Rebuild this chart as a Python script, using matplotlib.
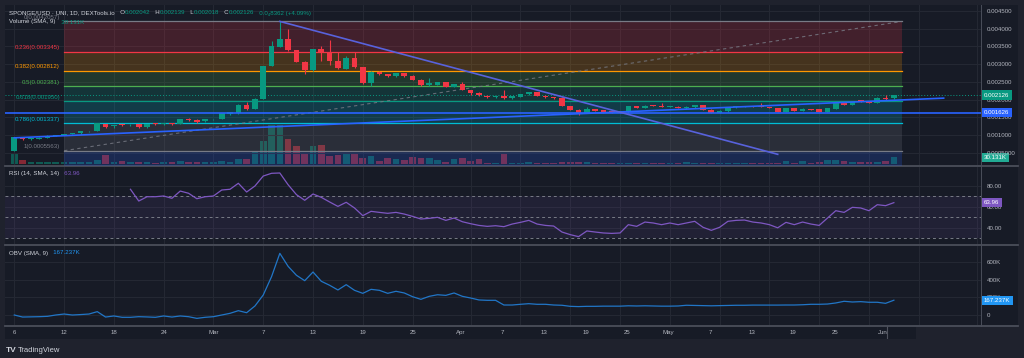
import numpy as np
import matplotlib
matplotlib.use("Agg")
import matplotlib.pyplot as plt
from matplotlib.patches import Rectangle
from matplotlib.lines import Line2D

plt.rcParams['font.family'] = ['Liberation Sans', 'DejaVu Sans']

# ---------------- data ----------------
open_ = [0.00056, 0.00093, 0.00088, 0.00090, 0.00092, 0.00098, 0.00100, 0.00103, 0.00105, 0.00110,
         0.00111, 0.00131, 0.00124, 0.00130, 0.00127, 0.00131, 0.00122, 0.00131, 0.00130, 0.00132,
         0.00131, 0.00145, 0.00142, 0.00139, 0.00144, 0.00145, 0.00159, 0.00161, 0.00185, 0.00173,
         0.00202, 0.00295, 0.00349, 0.00371, 0.00340, 0.00307, 0.00283, 0.00342, 0.00333, 0.00310,
         0.00287, 0.00316, 0.00292, 0.00248, 0.00279, 0.00272, 0.00266, 0.00274, 0.00267, 0.00255,
         0.00240, 0.00242, 0.00249, 0.00236, 0.00243, 0.00227, 0.00219, 0.00210, 0.00206, 0.00210,
         0.00203, 0.00208, 0.00215, 0.00221, 0.00211, 0.00206, 0.00205, 0.00182, 0.00171, 0.00163,
         0.00173, 0.00170, 0.00165, 0.00164, 0.00164, 0.00182, 0.00177, 0.00184, 0.00183, 0.00179,
         0.00180, 0.00176, 0.00178, 0.00185, 0.00171, 0.00163, 0.00167, 0.00178, 0.00180, 0.00181,
         0.00182, 0.00178, 0.00176, 0.00166, 0.00176, 0.00168, 0.00172, 0.00172, 0.00166, 0.00173,
         0.00191, 0.00185, 0.00196, 0.00196, 0.00191, 0.00205, 0.002042]
high = [0.00095, 0.00094, 0.00091, 0.00093, 0.00099, 0.00101, 0.00104, 0.00107, 0.00111, 0.00112,
        0.00134, 0.00132, 0.00129, 0.00131, 0.00130, 0.00132, 0.00132, 0.00133, 0.00133, 0.00133,
        0.00146, 0.00148, 0.00144, 0.00145, 0.00146, 0.00162, 0.00166, 0.00187, 0.00192, 0.00205,
        0.00296, 0.00366, 0.0042057, 0.00399, 0.00341, 0.00308, 0.00343, 0.00351, 0.00368, 0.00335,
        0.00323, 0.00333, 0.00293, 0.00280, 0.00280, 0.00273, 0.00276, 0.00276, 0.00268, 0.00258,
        0.00260, 0.00250, 0.00250, 0.00244, 0.00250, 0.00228, 0.00221, 0.00212, 0.00211, 0.00227,
        0.00210, 0.00217, 0.00222, 0.00222, 0.00212, 0.00207, 0.00206, 0.00183, 0.00172, 0.00180,
        0.00174, 0.00171, 0.00166, 0.00166, 0.00183, 0.00183, 0.00184, 0.00185, 0.00191, 0.00181,
        0.00181, 0.00181, 0.00186, 0.00186, 0.00172, 0.00170, 0.00180, 0.00182, 0.00182, 0.00182,
        0.00191, 0.00179, 0.00177, 0.00177, 0.00177, 0.00175, 0.00173, 0.00173, 0.00177, 0.00192,
        0.00192, 0.00196, 0.00197, 0.00197, 0.00206, 0.00213, 0.002139]
low = [0.00056, 0.00087, 0.00087, 0.00089, 0.00091, 0.00097, 0.00099, 0.00102, 0.00104, 0.00109,
       0.00110, 0.00121, 0.00121, 0.00126, 0.00126, 0.00121, 0.00121, 0.00129, 0.00129, 0.00129,
       0.00130, 0.00140, 0.00134, 0.00138, 0.00142, 0.00144, 0.00157, 0.00160, 0.00170, 0.00172,
       0.00201, 0.00294, 0.00349, 0.00338, 0.00307, 0.00271, 0.00282, 0.00310, 0.00298, 0.00286,
       0.00286, 0.00290, 0.00245, 0.00238, 0.00268, 0.00264, 0.00265, 0.00265, 0.00254, 0.00239,
       0.00239, 0.00241, 0.00235, 0.00235, 0.00226, 0.00213, 0.00210, 0.00205, 0.00205, 0.00202,
       0.00202, 0.00207, 0.00214, 0.00210, 0.00203, 0.00202, 0.00181, 0.00170, 0.00156, 0.00162,
       0.00168, 0.00163, 0.00163, 0.00162, 0.00163, 0.00175, 0.00176, 0.00181, 0.00178, 0.00178,
       0.00176, 0.00173, 0.00177, 0.00170, 0.00162, 0.00162, 0.00166, 0.00177, 0.00179, 0.00179,
       0.00178, 0.00175, 0.00166, 0.00165, 0.00167, 0.00167, 0.00171, 0.00166, 0.00165, 0.00172,
       0.00184, 0.00184, 0.00194, 0.00190, 0.00190, 0.00199, 0.002018]
close = [0.00093, 0.00088, 0.00090, 0.00092, 0.00098, 0.00100, 0.00103, 0.00106, 0.00110, 0.00111,
         0.00133, 0.00122, 0.00128, 0.00127, 0.00128, 0.00122, 0.00131, 0.00130, 0.00132, 0.00130,
         0.00145, 0.00141, 0.00136, 0.00144, 0.00145, 0.00161, 0.00164, 0.00185, 0.00173, 0.00202,
         0.00295, 0.00351, 0.00371, 0.00340, 0.00307, 0.00283, 0.00342, 0.00333, 0.00310, 0.00288,
         0.00316, 0.00292, 0.00248, 0.00279, 0.00271, 0.00266, 0.00274, 0.00267, 0.00255, 0.00240,
         0.00246, 0.00249, 0.00236, 0.00243, 0.00227, 0.00219, 0.00212, 0.00206, 0.00210, 0.00203,
         0.00209, 0.00215, 0.00221, 0.00211, 0.00206, 0.00204, 0.00182, 0.00171, 0.00163, 0.00172,
         0.00169, 0.00165, 0.00164, 0.00165, 0.00182, 0.00176, 0.00183, 0.00182, 0.00179, 0.00180,
         0.00177, 0.00180, 0.00185, 0.00171, 0.00163, 0.00168, 0.00178, 0.00181, 0.00181, 0.00180,
         0.00179, 0.00176, 0.00166, 0.00176, 0.00168, 0.00172, 0.001715, 0.00166, 0.00176, 0.00191,
         0.00185, 0.00196, 0.00195, 0.00191, 0.00205, 0.00201, 0.002126]
volume_k = [45, 18, 7, 7, 7, 7, 9, 7, 9, 9,
            18, 40, 7, 13, 9, 9, 9, 5, 9, 7,
            13, 9, 7, 7, 7, 15, 11, 22, 21, 59,
            104, 175, 175, 112, 81, 45, 80, 85, 35, 39,
            51, 51, 28, 36, 12, 28, 22, 17, 32, 28,
            28, 19, 9, 24, 28, 15, 22, 5, 5, 45,
            5, 5, 9, 5, 5, 5, 8, 10, 8, 8,
            5, 5, 5, 5, 5, 5, 5, 5, 5, 5,
            5, 10, 5, 5, 5, 5, 5, 5, 5, 5,
            5, 5, 5, 15, 5, 15, 5, 7, 19, 19,
            15, 7, 10, 7, 7, 15, 30.131]
rsi_values = [np.nan] * 14 + [
    76.7, 65.5, 69.6, 69.6, 70.3, 68.1, 75.0, 72.9, 67.7, 69.6,
    70.3, 76.0, 76.7, 82.4, 74.1, 79.8, 89.3, 91.9, 92.2, 81.0,
    71.6, 66.2, 72.2, 69.0, 64.6, 60.4, 64.3, 58.9, 51.6, 55.7,
    54.7, 53.8, 54.7, 53.1, 50.9, 48.4, 49.0, 50.0, 47.1, 49.3,
    45.8, 43.9, 42.3, 41.4, 42.0, 41.1, 43.6, 45.2, 47.1, 43.6,
    42.3, 41.7, 36.0, 33.5, 31.6, 37.0, 36.0, 35.1, 34.7, 35.1,
    43.0, 41.4, 45.5, 44.6, 43.0, 44.6, 43.0, 44.6, 46.2, 40.5,
    37.6, 40.5, 46.2, 47.1, 47.4, 45.5, 44.6, 43.0, 40.0, 45.2,
    43.0, 45.5, 43.6, 42.3, 49.3, 56.3, 54.7, 59.5, 58.9, 56.3,
    62.0, 61.1, 63.96]
obv_k = [0, -23, -21, -19, -15, 0, 11, 0, 5, 11,
         38, -23, -11, -26, -26, -19, -22, -26, -11, -23,
         -11, -19, -38, -26, -19, 0, 19, 49, 26, 102,
         226, 433, 697, 550, 449, 388, 486, 381, 336, 283,
         343, 279, 245, 290, 279, 245, 268, 249, 207, 177,
         211, 229, 222, 249, 211, 192, 170, 166, 166, 113,
         113, 121, 128, 121, 121, 113, 110, 98, 95, 98,
         98, 100, 100, 100, 104, 102, 104, 102, 100, 100,
         102, 110, 108, 106, 104, 106, 108, 110, 110, 112,
         112, 112, 112, 113, 113, 116, 121, 121, 124, 136,
         155, 147, 151, 144, 144, 132, 167.237]

fib_levels = [0, 0.236, 0.382, 0.5, 0.618, 0.786, 1]
fib_labels = ['0(0.0042057)', '0.236(0.003345)', '0.382(0.002812)', '0.5(0.002381)',
              '0.618(0.001950)', '0.786(0.001337)', '1(0.0005563)']
fib_high = 0.0042057
fib_low = 0.0005563
fib_bars = [6, 107]

support_bars = [0, 112]
support_prices = [0.00092, 0.00204]
resist_bars = [32, 92]
resist_prices = [0.0042057, 0.000455]
h_level = 0.001626
last_close = 0.002126
last_volume = 30.131
last_rsi = 63.96
last_obv = 167.237

price_ticks = [0.0005, 0.001, 0.0015, 0.002, 0.0025, 0.003, 0.0035, 0.004, 0.0045]
price_tick_labels = ['0.0005000', '0.001000', '0.001500', '0.002000', '0.002500',
                     '0.003000', '0.003500', '0.004000', '0.004500']
date_bars = [0, 6, 12, 18, 24, 30, 36, 42, 48, 55, 61, 67, 73, 79, 85, 91, 97, 103, 109, 116]
date_labels = ['6', '12', '18', '24', 'Mar', '7', '13', '19', '25', 'Apr',
               '7', '13', '19', '25', 'May', '7', '13', '19', '25', 'Jun']
rsi_ticks = [40, 60, 80]
rsi_tick_labels = ['40.00', '60.00', '80.00']
obv_ticks = [0, 200, 400, 600]
obv_tick_labels = ['0', '200K', '400K', '600K']

# ---------------- style ----------------
W, H = 1024, 358
BG = '#171b26'
OUTER = '#1f222d'
GRID = '#242833'
TXT = '#b2b5be'
UP = '#089981'
DN = '#f23645'
FS = 4.4


def fx(px):
    return px / W


def fy(py):
    return 1 - py / H


fig = plt.figure(figsize=(W / 100, H / 100), dpi=100)
fig.patch.set_facecolor(OUTER)
fig.patches.append(Rectangle((fx(5), fy(326)), fx(1018) - fx(5), fy(5) - fy(326),
                             transform=fig.transFigure, facecolor=BG, edgecolor='none', zorder=-10))
fig.patches.append(Rectangle((fx(5), fy(339)), fx(916) - fx(5), fy(326) - fy(339),
                             transform=fig.transFigure, facecolor=BG, edgecolor='none', zorder=-10))

XL = (-1.12, 116.5)
x = np.arange(len(open_))
o = np.array(open_); c = np.array(close); hi = np.array(high); lo = np.array(low)
up = c >= o
cols = np.where(up, UP, DN)

ax = fig.add_axes([fx(5), fy(165), fx(981) - fx(5), fy(5) - fy(165)])
axv = ax.twinx()
ax.set_zorder(2); axv.set_zorder(1)
ax.patch.set_visible(False); axv.patch.set_visible(False)
ax_r = fig.add_axes([fx(5), fy(244), fx(981) - fx(5), fy(167) - fy(244)])
ax_o = fig.add_axes([fx(5), fy(325), fx(981) - fx(5), fy(246) - fy(325)])
for a in (ax_r, ax_o):
    a.patch.set_visible(False)

for a in (ax, axv, ax_r, ax_o):
    a.set_xlim(*XL)
    for s in a.spines.values():
        s.set_visible(False)
    a.set_xticks([])

for a in (ax, ax_r, ax_o):
    for b in date_bars:
        a.axvline(b, color=GRID, lw=0.8, zorder=0)
    a.yaxis.tick_right()
    a.tick_params(axis='y', length=0, pad=4, labelsize=FS, labelcolor=TXT)

# ---- price pane ----
ax.set_ylim(0.000153, 0.004669)
ax.set_yticks(price_ticks)
ax.set_yticklabels(price_tick_labels)
for p in price_ticks:
    ax.axhline(p, color=GRID, lw=0.8, zorder=0)

fib_prices = [fib_high - lv * (fib_high - fib_low) for lv in fib_levels]
fib_cols = ['#787b86', '#f23645', '#ff9800', '#4caf50', '#089981', '#00bcd4', '#787b86']
fx0, fx1 = fib_bars
for i in range(1, len(fib_levels)):
    ax.fill_between([fx0, fx1], fib_prices[i - 1], fib_prices[i], color=fib_cols[i],
                    alpha=0.2, lw=0, zorder=1)
ext = fib_high - 1.618 * (fib_high - fib_low)
ax.fill_between([fx0, fx1], fib_prices[-1], ext, color='#2962ff', alpha=0.2, lw=0, zorder=1)
for p, col, lab in zip(fib_prices, fib_cols, fib_labels):
    ax.plot([fx0, fx1], [p, p], color=col, lw=0.9, zorder=1.5)
    ax.annotate(lab, (fx0, p), xytext=(-4, 1.5), textcoords='offset pixels', ha='right',
                va='bottom', color=col, fontsize=FS, zorder=1.5)
ax.plot([fx0, fx1], [fib_low, fib_high], color='#787b86', lw=0.8, ls=(0, (3, 3)),
        alpha=0.8, zorder=1.6)

ax.axhline(last_close, color=UP, lw=0.7, ls=(0, (1, 2)), zorder=1.7)
ax.axhline(h_level, color='#2962ff', lw=1.2, zorder=4)

ax.vlines(x, lo, hi, color=cols, lw=0.8, zorder=3)
body_b = np.minimum(o, c)
body_h = np.maximum(np.abs(c - o), 2.5e-5)
ax.bar(x, body_h, bottom=body_b, width=0.68, color=cols, lw=0, zorder=3)

ax.plot(support_bars, support_prices, color='#2962ff', lw=1.2, zorder=4)
ax.plot(resist_bars, resist_prices, color='#5862dc', lw=1.2, zorder=4)

# volume overlay
axv.set_ylim(-4.5, 714)
axv.set_yticks([])
axv.bar(x, volume_k, width=0.8, color=cols, alpha=0.5, lw=0)

# ---- RSI pane ----
ax_r.set_ylim(24.6, 97.9)
ax_r.set_yticks(rsi_ticks)
ax_r.set_yticklabels(rsi_tick_labels)
for t in rsi_ticks:
    ax_r.axhline(t, color=GRID, lw=0.8, zorder=0)
ax_r.fill_between(XL, 30, 70, color='#7e57c2', alpha=0.1, lw=0)
for lv in (30, 50, 70):
    ax_r.axhline(lv, color='#787b86', lw=0.7, ls=(0, (3, 3)))
ax_r.plot(x, rsi_values, color='#7e57c2', lw=0.9)

# ---- OBV pane ----
ax_o.set_ylim(-113, 780)
ax_o.set_yticks(obv_ticks)
ax_o.set_yticklabels(obv_tick_labels)
for t in obv_ticks:
    ax_o.axhline(t, color=GRID, lw=0.8, zorder=0)
ax_o.plot(x, obv_k, color='#2176c7', lw=0.9)


# ---- right side value tags ----
def tag(a, yv, s, fc):
    a.annotate(s, xy=(1, yv), xycoords=a.get_yaxis_transform(), xytext=(3, 0),
               textcoords='offset pixels', ha='left', va='center', fontsize=FS, color='white',
               bbox=dict(boxstyle='square,pad=0.35', fc=fc, ec='none'),
               annotation_clip=False, zorder=10)


tag(ax, last_close, '0.002126', UP)
tag(ax, h_level, '0.001626', '#2962ff')
tag(axv, last_volume, '30.131K', '#22ab94')
tag(ax_r, last_rsi, '63.96', '#7e57c2')
tag(ax_o, last_obv, '167.237K', '#2196f3')

# ---- time axis strip ----
ax_t = fig.add_axes([fx(5), fy(339), fx(916) - fx(5), fy(326) - fy(339)])
ax_t.set_xlim(-1.12, -1.12 + 911 / 8.298)
ax_t.set_ylim(0, 1)
ax_t.axis('off')


def strip_pos(b):
    return b if b <= 48 else 48 + (b - 48) * 0.834


for b, lab in zip(date_bars, date_labels):
    ax_t.text(strip_pos(b), 0.5, lab, ha='center', va='center', color=TXT, fontsize=FS)
ax_t.axvline(strip_pos(116.5), color='#50535e', lw=0.8)

# ---- separators ----
for yy in (165.5, 245, 325.5):
    fig.add_artist(Line2D([fx(5), fx(1018)], [fy(yy)] * 2, transform=fig.transFigure,
                          color='#4a4e5a', lw=1.3))
fig.add_artist(Line2D([fx(981), fx(981)], [fy(5), fy(326)], transform=fig.transFigure,
                      color='#4a4e5a', lw=0.7))

# ---- legend texts ----
renderer = fig.canvas.get_renderer()


def seq_text(x0, y0, parts):
    xx = x0
    for s, col in parts:
        t = fig.text(fx(xx), fy(y0), s, color=col, fontsize=FS, ha='left', va='center')
        xx += t.get_window_extent(renderer).width


GRAYT = '#d1d4dc'
seq_text(9, 13, [('SPONGE/USD · UNI, 1D, DEXTools.io', GRAYT), ('   O', GRAYT), ('0.002042', UP),
                 ('   H', GRAYT), ('0.002139', UP), ('   L', GRAYT), ('0.002018', UP),
                 ('   C', GRAYT), ('0.002126', UP), ('   0.0₄8362 (+4.09%)', UP)])
seq_text(9, 22, [('Volume (SMA, 9)', GRAYT), ('   30.131K', UP)])
seq_text(9, 173, [('RSI (14, SMA, 14)', GRAYT), ('   63.96', '#7e57c2')])
seq_text(9, 253, [('OBV (SMA, 9)', GRAYT), ('   167.237K', '#2196f3')])

fig.text(fx(6), fy(350), 'TV', color=GRAYT, fontsize=6, fontweight='bold', ha='left', va='center')
fig.text(fx(18), fy(350), 'TradingView', color=GRAYT, fontsize=5.5, ha='left', va='center')

fig.savefig('out.png', dpi=100, facecolor=fig.get_facecolor())
